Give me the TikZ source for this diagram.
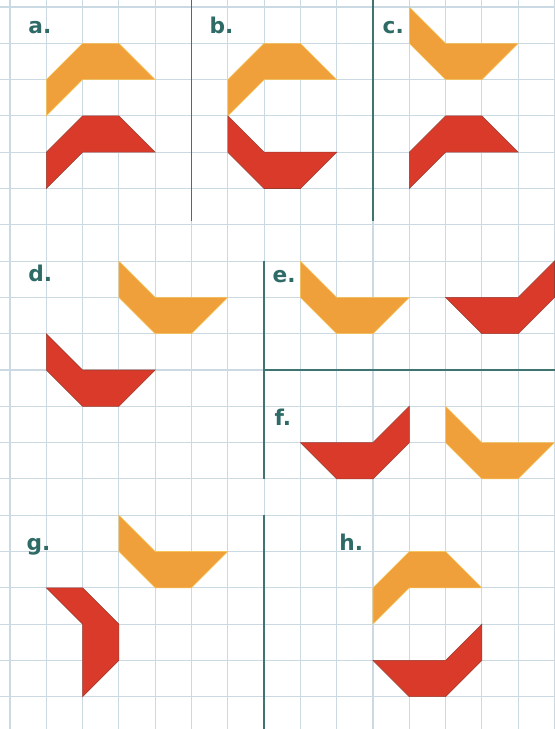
\documentclass[tikz,border=0pt]{standalone}
\usepackage{fontspec}
\setmainfont{DejaVu Sans}
\definecolor{gridc}{HTML}{CBDAE2}
\definecolor{sepc}{HTML}{3F7570}
\definecolor{labc}{HTML}{2E6B66}
\definecolor{orfill}{HTML}{EFA03B}
\definecolor{oredge}{HTML}{F6C45A}
\definecolor{rdfill}{HTML}{D93A2A}
\definecolor{rdedge}{HTML}{9A3A2E}
\tikzset{
  gridline/.style={draw=gridc, line width=0.8pt},
  sepline/.style={draw=sepc, line width=1.2pt},
  lab/.style={anchor=base west, inner sep=0pt, text=labc, font=\bfseries\fontsize{17}{19}\selectfont},
  orshape/.style={fill=orfill, draw=oredge, line width=0.4pt, line join=miter},
  rdshape/.style={fill=rdfill, draw=rdedge, line width=0.4pt, line join=miter}
}
\begin{document}
\begin{tikzpicture}[x=1cm, y=-1cm]
\path[fill=white] (-0.2755,-0.1928) rectangle (15.014,19.890);
\useasboundingbox (-0.2755,-0.1928) rectangle (15.014,19.890);
% grid
\foreach \i in {0,...,15} \draw[gridline] (\i,-0.1928) -- (\i,19.890);
\foreach \j in {0,...,19} \draw[gridline] (-0.2755,\j) -- (15.014,\j);
% separators
\draw[sepline] (5,-0.1928) -- (5,5.9);
\draw[sepline] (10,-0.1928) -- (10,5.9);
\draw[sepline] (7,7) -- (7,13);
\draw[sepline] (7,10) -- (15.014,10);
\draw[sepline] (7,14) -- (7,19.890);
% a
\draw[orshape] (1,2) -- (2,1) -- (3,1) -- (4,2) -- (2,2) -- (1,3) -- cycle;
\draw[rdshape] (1,4) -- (2,3) -- (3,3) -- (4,4) -- (2,4) -- (1,5) -- cycle;
% b
\draw[orshape] (6,2) -- (7,1) -- (8,1) -- (9,2) -- (7,2) -- (6,3) -- cycle;
\draw[rdshape] (6,3) -- (6,4) -- (7,5) -- (8,5) -- (9,4) -- (7,4) -- cycle;
% c
\draw[orshape] (11,0) -- (12,1) -- (14,1) -- (13,2) -- (12,2) -- (11,1) -- cycle;
\draw[rdshape] (11,4) -- (12,3) -- (13,3) -- (14,4) -- (12,4) -- (11,5) -- cycle;
% d
\draw[orshape] (3,7) -- (4,8) -- (6,8) -- (5,9) -- (4,9) -- (3,8) -- cycle;
\draw[rdshape] (1,9) -- (2,10) -- (4,10) -- (3,11) -- (2,11) -- (1,10) -- cycle;
% e
\draw[orshape] (8,7) -- (9,8) -- (11,8) -- (10,9) -- (9,9) -- (8,8) -- cycle;
\draw[rdshape] (12,8) -- (14,8) -- (15,7) -- (15,8) -- (14,9) -- (13,9) -- cycle;
% f
\draw[rdshape] (8,12) -- (10,12) -- (11,11) -- (11,12) -- (10,13) -- (9,13) -- cycle;
\draw[orshape] (12,11) -- (13,12) -- (15,12) -- (14,13) -- (13,13) -- (12,12) -- cycle;
% g
\draw[orshape] (3,14) -- (4,15) -- (6,15) -- (5,16) -- (4,16) -- (3,15) -- cycle;
\draw[rdshape] (1,16) -- (2,16) -- (3,17) -- (3,18) -- (2,19) -- (2,17) -- cycle;
% h
\draw[orshape] (10,16) -- (11,15) -- (12,15) -- (13,16) -- (11,16) -- (10,17) -- cycle;
\draw[rdshape] (10,18) -- (12,18) -- (13,17) -- (13,18) -- (12,19) -- (11,19) -- cycle;
% labels
\node[lab] (la) at (0.50,0.72) {a.};
\node[lab] (lb) at (5.49,0.72) {b.};
\node[lab] (lc) at (10.26,0.72) {c.};
\node[lab] (ld) at (0.50,7.57) {d.};
\node[lab] (le) at (7.23,7.59) {e.};
\node[lab] (lf) at (7.28,11.53) {f.};
\node[lab] (lg) at (0.45,14.96) {g.};
\node[lab] (lh) at (9.07,14.98) {h.};
\end{tikzpicture}
\end{document}
